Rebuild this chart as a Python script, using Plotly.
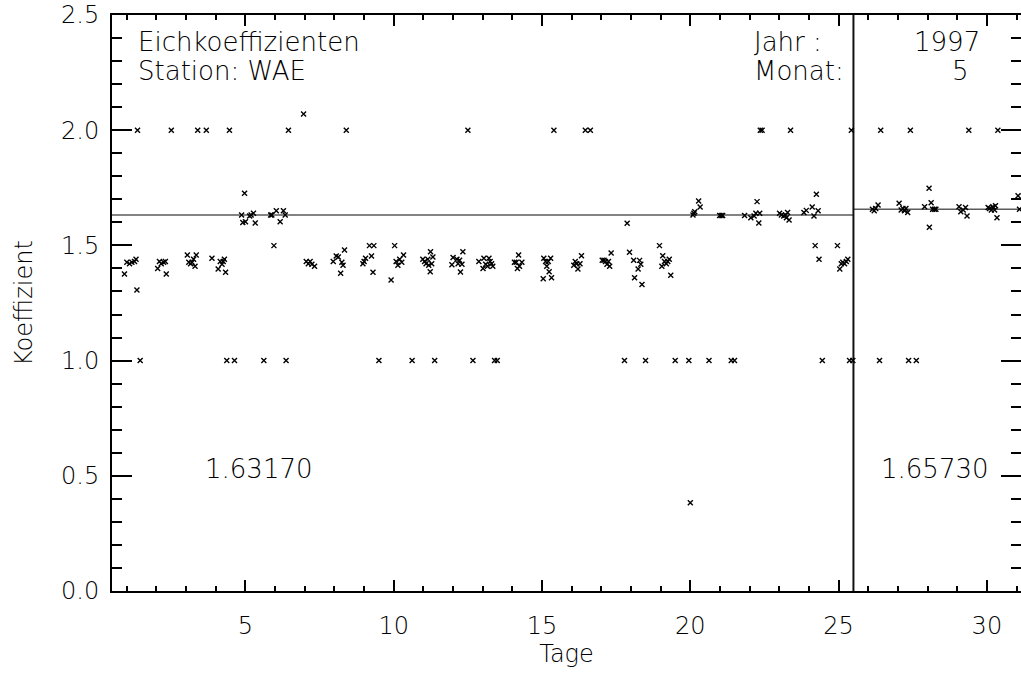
import plotly.graph_objects as go

# Tagesposition (Tag im Monat, mit Tageszeit-Anteil) und Eichkoeffizient je Messung
tage = [
    1.36, 2.50, 3.39, 3.68, 4.46, 6.45, 8.40, 12.50, 15.40, 16.46, 16.63,
    22.36, 22.42, 23.38, 25.43, 26.42, 27.42, 29.39, 30.37,
    1.45, 4.37, 4.63, 5.62, 6.37, 9.50, 10.62, 11.38, 12.67, 13.40, 13.49,
    17.78, 18.49, 19.49, 19.95, 20.63, 21.38, 21.49, 24.45, 25.37, 25.48,
    26.38, 27.36, 27.62,
    0.92, 1.00, 1.09, 1.17, 1.26, 1.31, 1.34,
    2.04, 2.10, 2.16, 2.24, 2.30, 2.33,
    3.04, 3.09, 3.15, 3.20, 3.25, 3.30, 3.34,
    3.87, 4.08, 4.15, 4.21, 4.25, 4.29, 4.33,
    4.87, 4.91, 4.97, 5.00, 5.14, 5.19, 5.27, 5.33,
    5.85, 5.89, 5.96, 6.04, 6.17, 6.28, 6.34,
    6.96,
    7.05, 7.12, 7.18, 7.24, 7.33,
    7.96, 8.06, 8.13, 8.21, 8.25, 8.29, 8.34,
    8.96, 9.00, 9.05, 9.18, 9.25, 9.30, 9.33,
    9.91, 10.03, 10.08, 10.14, 10.20, 10.27, 10.33,
    10.98, 11.04, 11.09, 11.15, 11.18, 11.23, 11.24, 11.28, 11.32,
    11.96, 12.00, 12.13, 12.17, 12.22, 12.25, 12.30, 12.33,
    12.87, 13.01, 13.04, 13.10, 13.16, 13.21, 13.25, 13.30, 13.34,
    14.07, 14.13, 14.17, 14.21, 14.24, 14.32,
    15.04, 15.06, 15.12, 15.16, 15.21, 15.24, 15.29, 15.32,
    16.07, 16.12, 16.17, 16.21, 16.28, 16.33,
    17.03, 17.09, 17.14, 17.19, 17.24, 17.28, 17.33,
    17.87,
    17.95, 18.09, 18.12, 18.24, 18.29, 18.33, 18.37,
    18.96,
    19.04, 19.07, 19.13, 19.19, 19.24, 19.29, 19.34,
    20.00,
    20.09, 20.12, 20.15, 20.28, 20.33,
    20.99, 21.04, 21.09,
    21.83, 22.04, 22.15, 22.21, 22.25, 22.31, 22.34,
    23.01, 23.07, 23.15, 23.21, 23.24, 23.28, 23.33,
    23.83, 23.91, 24.11, 24.17, 24.21, 24.25, 24.31, 24.34,
    24.96, 25.04, 25.09, 25.14, 25.20, 25.26, 25.31,
    26.14, 26.20, 26.25, 26.33,
    27.04, 27.11, 27.17, 27.22, 27.27, 27.33,
    27.90, 28.05, 28.06, 28.12, 28.17, 28.23, 28.28,
    29.06, 29.12, 29.20, 29.28, 29.33,
    30.04, 30.09, 30.15, 30.20, 30.26, 30.29, 30.34,
    31.05, 31.10,
]

koeff = [
    2.0, 2.0, 2.0, 2.0, 2.0, 2.0, 2.0, 2.0, 2.0, 2.0, 2.0,
    2.0, 2.0, 2.0, 2.0, 2.0, 2.0, 2.0, 2.0,
    1.0, 1.0, 1.0, 1.0, 1.0, 1.0, 1.0, 1.0, 1.0, 1.0, 1.0,
    1.0, 1.0, 1.0, 1.0, 1.0, 1.0, 1.0, 1.0, 1.0, 1.0,
    1.0, 1.0, 1.0,
    1.376, 1.427, 1.42, 1.427, 1.43, 1.44, 1.306,
    1.40, 1.43, 1.42, 1.427, 1.43, 1.376,
    1.458, 1.427, 1.42, 1.427, 1.44, 1.41, 1.458,
    1.444, 1.398, 1.43, 1.418, 1.43, 1.44, 1.383,
    1.632, 1.599, 1.726, 1.603, 1.628, 1.632, 1.640, 1.597,
    1.632, 1.632, 1.499, 1.650, 1.603, 1.650, 1.632,
    2.07,
    1.43, 1.42, 1.43, 1.418, 1.41,
    1.43, 1.454, 1.45, 1.379, 1.427, 1.414, 1.48,
    1.42, 1.43, 1.444, 1.499, 1.454, 1.383, 1.499,
    1.35, 1.499, 1.43, 1.414, 1.44, 1.427, 1.458,
    1.44, 1.43, 1.42, 1.44, 1.414, 1.386, 1.472, 1.42, 1.45,
    1.416, 1.447, 1.44, 1.42, 1.436, 1.385, 1.418, 1.472,
    1.43, 1.40, 1.444, 1.418, 1.41, 1.444, 1.43, 1.42, 1.41,
    1.427, 1.427, 1.40, 1.458, 1.41, 1.427,
    1.355, 1.444, 1.43, 1.41, 1.43, 1.386, 1.444, 1.36,
    1.414, 1.43, 1.42, 1.398, 1.42, 1.455,
    1.436, 1.436, 1.43, 1.418, 1.43, 1.41, 1.467,
    1.596,
    1.47, 1.436, 1.36, 1.398, 1.435, 1.418, 1.33,
    1.499,
    1.41, 1.455, 1.43, 1.42, 1.43, 1.44, 1.37,
    0.383,
    1.632, 1.64, 1.646, 1.693, 1.667,
    1.63, 1.63, 1.63,
    1.63, 1.62, 1.628, 1.64, 1.69, 1.597, 1.64,
    1.64, 1.632, 1.628, 1.632, 1.62, 1.643, 1.61,
    1.643, 1.652, 1.667, 1.628, 1.499, 1.722, 1.65, 1.44,
    1.499, 1.398, 1.42, 1.427, 1.42, 1.43, 1.44,
    1.657, 1.65, 1.66, 1.675,
    1.683, 1.654, 1.66, 1.65, 1.66, 1.643,
    1.668, 1.748, 1.579, 1.685, 1.657, 1.657, 1.657,
    1.668, 1.646, 1.654, 1.664, 1.628,
    1.664, 1.66, 1.654, 1.668, 1.654, 1.672, 1.62,
    1.715, 1.657,
]

# Mittelwerte vor und nach dem Wechsel
wechsel_tag = 25.5
mittel = [1.63170, 1.65730]
x_bereich = [0.5, 31.15]
y_bereich = [0.0, 2.5]

FONT = "DejaVu Sans"
TXT = "#000000"

fig = go.Figure()

# Mittelwert-Linien
fig.add_trace(go.Scatter(
    x=[x_bereich[0], wechsel_tag], y=[mittel[0], mittel[0]],
    mode="lines", line=dict(color="#5a5a5a", width=1.5),
    hoverinfo="skip", showlegend=False,
))
fig.add_trace(go.Scatter(
    x=[wechsel_tag, x_bereich[1]], y=[mittel[1], mittel[1]],
    mode="lines", line=dict(color="#5a5a5a", width=1.5),
    hoverinfo="skip", showlegend=False,
))
# Trennlinie beim Wechsel
fig.add_trace(go.Scatter(
    x=[wechsel_tag, wechsel_tag], y=y_bereich,
    mode="lines", line=dict(color="#111111", width=2),
    hoverinfo="skip", showlegend=False,
))

# Einzelmessungen
fig.add_trace(go.Scatter(
    x=tage, y=koeff, mode="markers",
    marker=dict(symbol="x-thin-open", size=5, color="black",
                line=dict(color="black", width=1.4)),
    showlegend=False,
))

def text(s, x, y, xanchor="left"):
    fig.add_annotation(
        text=s, x=x, y=y, xref="paper", yref="paper",
        xanchor=xanchor, yanchor="middle", showarrow=False,
        font=dict(family=FONT, size=26, color=TXT, weight=200),
    )

W, H0, TOP, LEFT = 909.0, 576.0, 15.0, 112.0

def px(xp):
    return (xp - LEFT) / W

def py(yp):
    return (TOP + H0 - yp) / H0

text("Eichkoeffizienten", px(136), py(42))
text("Station: WAE", px(136), py(71))
text("Jahr :", px(752), py(42))
text("Monat:", px(752), py(71))
text("1997", px(912), py(42))
text("5", px(950), py(71))
text(f"{mittel[0]:.5f}", px(203), py(469))
text(f"{mittel[1]:.5f}", px(879), py(469))

axis_font = dict(family=FONT, size=24, color=TXT, weight=200)

fig.update_xaxes(
    range=x_bereich, tickvals=[5, 10, 15, 20, 25, 30],
    ticks="inside", ticklen=11, tickwidth=1.5, tickcolor="black",
    minor=dict(dtick=1, tick0=0, ticks="inside", ticklen=5, tickwidth=1.5,
               tickcolor="black", showgrid=False),
    showline=True, linecolor="black", linewidth=2, mirror="ticks",
    showgrid=False, zeroline=False,
    tickfont=axis_font, ticklabelstandoff=12,
    title=dict(text="Tage", font=dict(family=FONT, size=24, color=TXT, weight=200), standoff=4),
)
fig.update_yaxes(
    range=y_bereich, tickvals=[0.0, 0.5, 1.0, 1.5, 2.0, 2.5], tickformat=".1f",
    ticks="inside", ticklen=20, tickwidth=1.5, tickcolor="black",
    minor=dict(dtick=0.1, tick0=0, ticks="inside", ticklen=10, tickwidth=1.5,
               tickcolor="black", showgrid=False),
    showline=True, linecolor="black", linewidth=2, mirror="ticks",
    showgrid=False, zeroline=False,
    tickfont=axis_font, ticklabelstandoff=6,
    title=dict(text="Koeffizient", font=dict(family=FONT, size=24, color=TXT, weight=200), standoff=22),
)

fig.update_layout(
    width=1021, height=673,
    margin=dict(l=112, r=0, t=15, b=82, autoexpand=False),
    plot_bgcolor="white", paper_bgcolor="white",
    showlegend=False,
)

fig.write_html("out.html")
